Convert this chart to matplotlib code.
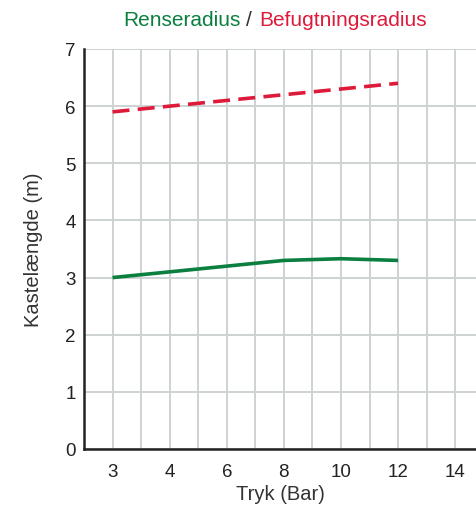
import matplotlib
matplotlib.use("Agg")
import matplotlib.pyplot as plt

# data
tryk = ["3", "4", "6", "8", "10", "12", "14"]
renseradius = [3.0, 3.1, 3.2, 3.3, 3.33, 3.3]
befugtning = [5.9, 6.0, 6.1, 6.2, 6.3, 6.4]

GREEN = "#0a7f3f"
RED = "#de1a3a"
GRID = "#cdd2d2"

plt.rcParams['font.family'] = ['Liberation Sans', 'DejaVu Sans']

fig = plt.figure(figsize=(4.76, 5.06), dpi=100)
ax = fig.add_axes([84 / 476, 1 - 450 / 506, 1 - 84 / 476, 400 / 506])

x = list(range(len(tryk)))
ax.plot(x[:len(renseradius)], renseradius, color=GREEN, lw=2.6, solid_capstyle="butt", zorder=3)
ax.plot(x[:len(befugtning)], befugtning, color=RED, lw=2.6, dashes=(4.7, 2.3), zorder=3)

ax.set_xticks(x)
ax.set_xticklabels(tryk)
ax.set_xticks([i + 0.5 for i in x], minor=True)
ax.set_yticks(range(0, 8))
# limits after the ticks so the minor ticks don't widen the view
ax.set_xlim(-0.5, 6.365)
ax.set_ylim(0, 7)
ax.grid(True, which="both", color=GRID, lw=1.4, zorder=0)
ax.tick_params(which="both", length=0, labelsize=13.5, colors="#222222")
ax.tick_params(axis="x", pad=10)
ax.tick_params(axis="y", pad=6)

for s in ["top", "right"]:
    ax.spines[s].set_visible(False)
for s in ["left", "bottom"]:
    ax.spines[s].set_color("#222222")
    ax.spines[s].set_linewidth(1.8)

ax.set_xlabel("Tryk (Bar)", fontsize=14.5, color="#333333", labelpad=3)
ax.set_ylabel("Kastelængde (m)", fontsize=14.5, color="#333333", labelpad=16)

# two-coloured title
fig.text(241 / 476, 1 - 21 / 506, "Renseradius", color=GREEN, fontsize=15, ha="right", va="center")
fig.text(249 / 476, 1 - 21 / 506, "/", color="#333333", fontsize=15, ha="center", va="center")
fig.text(259 / 476, 1 - 21 / 506, "Befugtningsradius", color=RED, fontsize=15, ha="left", va="center")

fig.savefig("out.png", dpi=100)
